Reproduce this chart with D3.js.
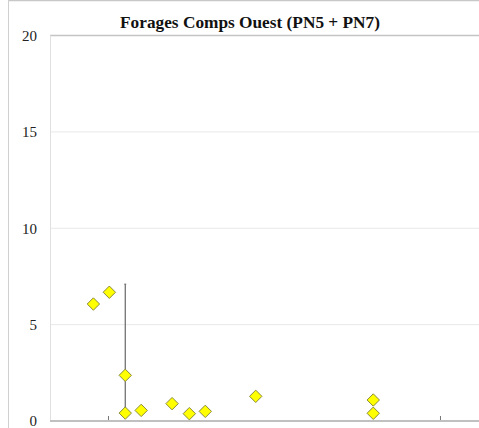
<!DOCTYPE html>
<html><head><meta charset="utf-8">
<script src="https://cdn.jsdelivr.net/npm/d3@7"></script>
<style>html,body{margin:0;padding:0;background:#fff;}svg{display:block;}</style>
</head><body>
<script>
const title = "Forages Comps Ouest (PN5 + PN7)";
const yTicks = [0, 5, 10, 15, 20];
const xTicks = [0, 10];
const xValues = [-0.44, 0.04, 0.52, 0.52, 1.0, 1.93, 2.45, 2.93, 4.45, 7.99, 7.99];
const yValues = [6.07, 6.68, 2.37, 0.41, 0.55, 0.90, 0.38, 0.50, 1.28, 1.09, 0.40];
const rangeX = [0.52];
const rangeLow = [0.41];
const rangeHigh = [7.1];

const W = 479, H = 428;
const m = {left: 50, right: 0, top: 35.5, bottom: 7};
const svg = d3.select("body").append("svg").attr("width", W).attr("height", H);

// outer frame
svg.append("line").attr("x1", 8).attr("x2", W).attr("y1", 0.5).attr("y2", 0.5).attr("stroke", "#c8c8c8").attr("stroke-width", 1.5);
svg.append("line").attr("x1", 8.5).attr("x2", 8.5).attr("y1", 0).attr("y2", H).attr("stroke", "#d0d0d0").attr("stroke-width", 1);

const x = d3.scaleLinear().domain([-1.747, 11.175]).range([m.left, W - m.right]);
const y = d3.scaleLinear().domain([0, 20]).range([H - m.bottom, m.top]);

// gridlines
svg.append("g").selectAll("line").data(yTicks.filter(d => d > 0)).join("line")
  .attr("x1", m.left).attr("x2", W).attr("y1", d => y(d)).attr("y2", d => y(d))
  .attr("stroke", d => d === 20 ? "#c4c4c4" : "#e8e8e8").attr("stroke-width", d => d === 20 ? 1.5 : 1);

// y axis line
svg.append("line").attr("x1", m.left + 0.5).attr("x2", m.left + 0.5).attr("y1", y(20)).attr("y2", y(0))
  .attr("stroke", "#e0e0e0");

// y tick labels
const yAxis = d3.axisLeft(y).tickValues(yTicks).tickSize(0).tickPadding(13);
const gy = svg.append("g").attr("transform", `translate(${m.left},0)`).call(yAxis);
gy.select(".domain").remove();
gy.attr("font-size", null).attr("font-family", null);
gy.selectAll("text").style("font-family", "'Liberation Serif', 'Times New Roman', serif").style("font-size", "15px").attr("fill", "#222");

// x axis
const xAxis = d3.axisBottom(x).tickValues(xTicks).tickSize(-5).tickFormat("");
const gx = svg.append("g").attr("transform", `translate(0,${y(0)})`).call(xAxis);
gx.select(".domain").remove();
gx.selectAll(".tick line").attr("stroke", "#777").attr("stroke-width", 1);
svg.append("line").attr("x1", m.left).attr("x2", W).attr("y1", y(0)).attr("y2", y(0))
  .attr("stroke", "#c0c0c0").attr("stroke-width", 2);

// range line
rangeX.forEach((rx, i) => {
  svg.append("line").attr("x1", x(rx)).attr("x2", x(rx)).attr("y1", y(rangeLow[i])).attr("y2", y(rangeHigh[i]))
    .attr("stroke", "#666").attr("stroke-width", 1.2);
  svg.append("line").attr("x1", x(rx) - 1).attr("x2", x(rx) + 1).attr("y1", y(rangeHigh[i])).attr("y2", y(rangeHigh[i]))
    .attr("stroke", "#666").attr("stroke-width", 1);
});

// points
const sym = d3.symbol().type(d3.symbolDiamond2).size(98);
svg.append("g").selectAll("path").data(xValues.map((d, i) => [d, yValues[i]])).join("path")
  .attr("d", sym)
  .attr("transform", d => `translate(${x(d[0])},${y(d[1])})`)
  .attr("fill", "#ffff00").attr("stroke", "#8a8a3a").attr("stroke-width", 1);

// title
svg.append("text").attr("x", 250).attr("y", 28).attr("text-anchor", "middle")
  .attr("font-family", "'Liberation Serif', 'Times New Roman', serif").attr("font-weight", "bold").attr("font-size", 17.3)
  .attr("fill", "#111").text(title);
</script>
</body></html>
